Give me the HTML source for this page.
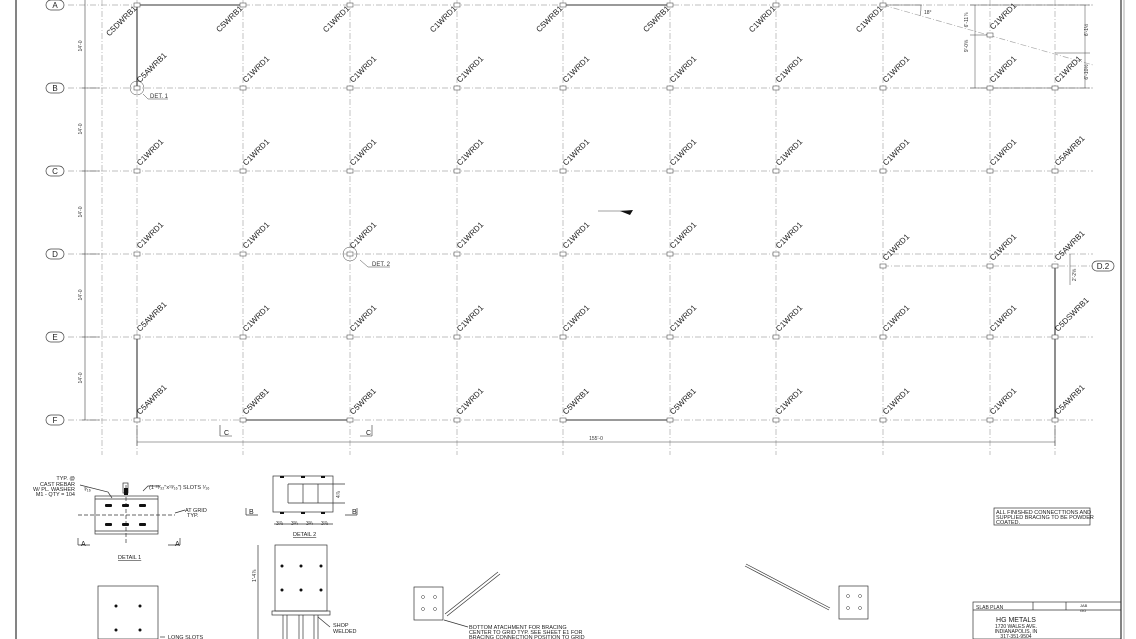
<!DOCTYPE html>
<html><head><meta charset="utf-8"><style>
html,body{margin:0;padding:0;background:#fff;}
svg{display:block;font-family:"Liberation Sans",sans-serif;}
</style></head><body>
<svg width="1136" height="639" viewBox="0 0 1136 639" xmlns="http://www.w3.org/2000/svg">
<rect width="1136" height="639" fill="#fff"/>
<line x1="16" y1="0" x2="16" y2="639" stroke="#333" stroke-width="1.2"/>
<line x1="1121" y1="0" x2="1121" y2="639" stroke="#333" stroke-width="1.2"/>
<line x1="1124" y1="0" x2="1124" y2="639" stroke="#777" stroke-width="0.6"/>
<g stroke="#aaa" stroke-width="0.7" stroke-dasharray="6 2 1 2" fill="none">
<line x1="68" y1="5" x2="1093" y2="5"/>
<line x1="68" y1="88" x2="1093" y2="88"/>
<line x1="68" y1="171" x2="1093" y2="171"/>
<line x1="68" y1="254" x2="1093" y2="254"/>
<line x1="68" y1="337" x2="1093" y2="337"/>
<line x1="68" y1="420" x2="1093" y2="420"/>
<line x1="883" y1="266" x2="1093" y2="266"/>
<line x1="102" y1="0" x2="102" y2="455"/>
<line x1="137" y1="0" x2="137" y2="455"/>
<line x1="243" y1="0" x2="243" y2="455"/>
<line x1="350" y1="0" x2="350" y2="455"/>
<line x1="457" y1="0" x2="457" y2="455"/>
<line x1="563" y1="0" x2="563" y2="455"/>
<line x1="670" y1="0" x2="670" y2="455"/>
<line x1="776" y1="0" x2="776" y2="455"/>
<line x1="883" y1="0" x2="883" y2="455"/>
<line x1="990" y1="0" x2="990" y2="455"/>
<line x1="1055" y1="0" x2="1055" y2="455"/>
<line x1="883" y1="5" x2="1093" y2="65"/>
</g>
<g font-size="8" fill="#222" text-anchor="middle" stroke="#444" stroke-width="0.7">
<rect x="46" y="0" width="18" height="10" rx="5" fill="none"/>
<rect x="46" y="83" width="18" height="10" rx="5" fill="none"/>
<rect x="46" y="166" width="18" height="10" rx="5" fill="none"/>
<rect x="46" y="249" width="18" height="10" rx="5" fill="none"/>
<rect x="46" y="332" width="18" height="10" rx="5" fill="none"/>
<rect x="46" y="415" width="18" height="10" rx="5" fill="none"/>
<rect x="1092" y="261" width="22" height="10" rx="5" fill="none"/>
</g>
<g font-size="8" fill="#222" text-anchor="middle">
<text x="55" y="8">A</text><text x="55" y="91">B</text><text x="55" y="174">C</text>
<text x="55" y="257">D</text><text x="55" y="340">E</text><text x="55" y="423">F</text>
<text x="1103" y="269">D.2</text>
</g>
<g stroke="#444" stroke-width="0.6">
<line x1="85" y1="0" x2="85" y2="420"/>
<line x1="82" y1="88" x2="100" y2="88"/><line x1="82" y1="171" x2="100" y2="171"/>
<line x1="82" y1="254" x2="100" y2="254"/><line x1="82" y1="337" x2="100" y2="337"/>
<line x1="82" y1="420" x2="100" y2="420"/>
<line x1="137" y1="442" x2="1055" y2="442"/>
<line x1="137" y1="425" x2="137" y2="446"/><line x1="1055" y1="425" x2="1055" y2="446"/>
</g>
<g font-size="5" fill="#333" text-anchor="middle">
<text transform="translate(82,46) rotate(-90)">14'-0</text>
<text transform="translate(82,129) rotate(-90)">14'-0</text>
<text transform="translate(82,212) rotate(-90)">14'-0</text>
<text transform="translate(82,295) rotate(-90)">14'-0</text>
<text transform="translate(82,378) rotate(-90)">14'-0</text>
<text x="596" y="440">155'-0</text>
</g>
<g stroke="#333" stroke-width="1.1">
<line x1="137" y1="5" x2="243" y2="5"/><line x1="563" y1="5" x2="670" y2="5"/>
<line x1="137" y1="5" x2="137" y2="88"/><line x1="137" y1="337" x2="137" y2="420"/>
<line x1="243" y1="420" x2="350" y2="420"/><line x1="563" y1="420" x2="670" y2="420"/>
<line x1="1055" y1="266" x2="1055" y2="420"/>
</g>
<g stroke="#444" stroke-width="0.5" fill="none">
<line x1="970" y1="5" x2="1090" y2="5"/><line x1="970" y1="88" x2="1090" y2="88"/>
<line x1="975" y1="5" x2="975" y2="88"/><line x1="1085" y1="5" x2="1085" y2="88"/>
<line x1="970" y1="35" x2="990" y2="35"/><line x1="1055" y1="53" x2="1090" y2="53"/>
<line x1="883" y1="5" x2="922" y2="5"/><path d="M921 5 A40 40 0 0 1 920 16"/>
<circle cx="350" cy="254" r="7"/><circle cx="137" cy="88" r="7"/>
<line x1="360" y1="260" x2="368" y2="267"/><line x1="368" y1="267" x2="390" y2="267"/>
<line x1="143" y1="94" x2="148" y2="99"/><line x1="148" y1="99" x2="168" y2="99"/>
<line x1="1070" y1="254" x2="1070" y2="285"/>
<line x1="598" y1="211" x2="628" y2="211"/>
</g>
<path d="M620 211 L633 210 L630 215 Z" fill="#111"/>
<g font-size="5" fill="#333">
<text transform="translate(968,46) rotate(-90)" text-anchor="middle">9'-0⅝</text>
<text transform="translate(968,20) rotate(-90)" text-anchor="middle">6'-11⅞</text>
<text transform="translate(1088,30) rotate(-90)" text-anchor="middle">6'-1½</text>
<text transform="translate(1088,72) rotate(-90)" text-anchor="middle">6'-10½</text>
<text transform="translate(1076,275) rotate(-90)" text-anchor="middle">2'-2⅝</text>
<text x="924" y="14">18°</text>
<text x="150" y="98" font-size="6">DET. 1</text>
<text x="372" y="266" font-size="6">DET. 2</text>
</g>
<g fill="#fff" stroke="#555" stroke-width="0.6">
<rect x="134" y="3" width="6" height="4"/><rect x="240" y="3" width="6" height="4"/><rect x="347" y="3" width="6" height="4"/><rect x="454" y="3" width="6" height="4"/><rect x="560" y="3" width="6" height="4"/><rect x="667" y="3" width="6" height="4"/><rect x="773" y="3" width="6" height="4"/><rect x="880" y="3" width="6" height="4"/>
<rect x="987" y="33" width="6" height="4"/>
<rect x="134" y="86" width="6" height="4"/><rect x="240" y="86" width="6" height="4"/><rect x="347" y="86" width="6" height="4"/><rect x="454" y="86" width="6" height="4"/><rect x="560" y="86" width="6" height="4"/><rect x="667" y="86" width="6" height="4"/><rect x="773" y="86" width="6" height="4"/><rect x="880" y="86" width="6" height="4"/><rect x="987" y="86" width="6" height="4"/><rect x="1052" y="86" width="6" height="4"/>
<rect x="134" y="169" width="6" height="4"/><rect x="240" y="169" width="6" height="4"/><rect x="347" y="169" width="6" height="4"/><rect x="454" y="169" width="6" height="4"/><rect x="560" y="169" width="6" height="4"/><rect x="667" y="169" width="6" height="4"/><rect x="773" y="169" width="6" height="4"/><rect x="880" y="169" width="6" height="4"/><rect x="987" y="169" width="6" height="4"/><rect x="1052" y="169" width="6" height="4"/>
<rect x="134" y="252" width="6" height="4"/><rect x="240" y="252" width="6" height="4"/><rect x="347" y="252" width="6" height="4"/><rect x="454" y="252" width="6" height="4"/><rect x="560" y="252" width="6" height="4"/><rect x="667" y="252" width="6" height="4"/><rect x="773" y="252" width="6" height="4"/><rect x="880" y="264" width="6" height="4"/><rect x="987" y="264" width="6" height="4"/><rect x="1052" y="264" width="6" height="4"/>
<rect x="134" y="335" width="6" height="4"/><rect x="240" y="335" width="6" height="4"/><rect x="347" y="335" width="6" height="4"/><rect x="454" y="335" width="6" height="4"/><rect x="560" y="335" width="6" height="4"/><rect x="667" y="335" width="6" height="4"/><rect x="773" y="335" width="6" height="4"/><rect x="880" y="335" width="6" height="4"/><rect x="987" y="335" width="6" height="4"/><rect x="1052" y="335" width="6" height="4"/>
<rect x="134" y="418" width="6" height="4"/><rect x="240" y="418" width="6" height="4"/><rect x="347" y="418" width="6" height="4"/><rect x="454" y="418" width="6" height="4"/><rect x="560" y="418" width="6" height="4"/><rect x="667" y="418" width="6" height="4"/><rect x="773" y="418" width="6" height="4"/><rect x="880" y="418" width="6" height="4"/><rect x="987" y="418" width="6" height="4"/><rect x="1052" y="418" width="6" height="4"/>
</g>
<g font-size="8" fill="#222" text-anchor="end">
<text transform="translate(137,9) rotate(-45)">C5DWRB1</text>
<text transform="translate(243,9) rotate(-45)">C5WRB1</text>
<text transform="translate(350,9) rotate(-45)">C1WRD1</text>
<text transform="translate(457,9) rotate(-45)">C1WRD1</text>
<text transform="translate(563,9) rotate(-45)">C5WRB1</text>
<text transform="translate(670,9) rotate(-45)">C5WRB1</text>
<text transform="translate(776,9) rotate(-45)">C1WRD1</text>
<text transform="translate(883,9) rotate(-45)">C1WRD1</text>
</g>
<g font-size="8" fill="#222">
<text transform="translate(140,83) rotate(-45)">C5AWRB1</text>
<text transform="translate(246,83) rotate(-45)">C1WRD1</text><text transform="translate(353,83) rotate(-45)">C1WRD1</text><text transform="translate(460,83) rotate(-45)">C1WRD1</text><text transform="translate(566,83) rotate(-45)">C1WRD1</text><text transform="translate(673,83) rotate(-45)">C1WRD1</text><text transform="translate(779,83) rotate(-45)">C1WRD1</text><text transform="translate(886,83) rotate(-45)">C1WRD1</text><text transform="translate(993,83) rotate(-45)">C1WRD1</text><text transform="translate(1058,83) rotate(-45)">C1WRD1</text>
<text transform="translate(993,30) rotate(-45)">C1WRD1</text>
<text transform="translate(140,166) rotate(-45)">C1WRD1</text><text transform="translate(246,166) rotate(-45)">C1WRD1</text><text transform="translate(353,166) rotate(-45)">C1WRD1</text><text transform="translate(460,166) rotate(-45)">C1WRD1</text><text transform="translate(566,166) rotate(-45)">C1WRD1</text><text transform="translate(673,166) rotate(-45)">C1WRD1</text><text transform="translate(779,166) rotate(-45)">C1WRD1</text><text transform="translate(886,166) rotate(-45)">C1WRD1</text><text transform="translate(993,166) rotate(-45)">C1WRD1</text><text transform="translate(1058,166) rotate(-45)">C5AWRB1</text>
<text transform="translate(140,249) rotate(-45)">C1WRD1</text><text transform="translate(246,249) rotate(-45)">C1WRD1</text><text transform="translate(353,249) rotate(-45)">C1WRD1</text><text transform="translate(460,249) rotate(-45)">C1WRD1</text><text transform="translate(566,249) rotate(-45)">C1WRD1</text><text transform="translate(673,249) rotate(-45)">C1WRD1</text><text transform="translate(779,249) rotate(-45)">C1WRD1</text><text transform="translate(886,261) rotate(-45)">C1WRD1</text><text transform="translate(993,261) rotate(-45)">C1WRD1</text><text transform="translate(1058,261) rotate(-45)">C5AWRB1</text>
<text transform="translate(140,332) rotate(-45)">C5AWRB1</text><text transform="translate(246,332) rotate(-45)">C1WRD1</text><text transform="translate(353,332) rotate(-45)">C1WRD1</text><text transform="translate(460,332) rotate(-45)">C1WRD1</text><text transform="translate(566,332) rotate(-45)">C1WRD1</text><text transform="translate(673,332) rotate(-45)">C1WRD1</text><text transform="translate(779,332) rotate(-45)">C1WRD1</text><text transform="translate(886,332) rotate(-45)">C1WRD1</text><text transform="translate(993,332) rotate(-45)">C1WRD1</text><text transform="translate(1058,332) rotate(-45)">C5DSWRB1</text>
<text transform="translate(140,415) rotate(-45)">C5AWRB1</text><text transform="translate(246,415) rotate(-45)">C5WRB1</text><text transform="translate(353,415) rotate(-45)">C5WRB1</text><text transform="translate(460,415) rotate(-45)">C1WRD1</text><text transform="translate(566,415) rotate(-45)">C5WRB1</text><text transform="translate(673,415) rotate(-45)">C5WRB1</text><text transform="translate(779,415) rotate(-45)">C1WRD1</text><text transform="translate(886,415) rotate(-45)">C1WRD1</text><text transform="translate(993,415) rotate(-45)">C1WRD1</text><text transform="translate(1058,415) rotate(-45)">C5AWRB1</text>
</g>
<g stroke="#333" stroke-width="0.6" fill="none">
<path d="M220 436 V425 M220 436 H232 M372 436 V425 M372 436 H360"/>
</g>
<g font-size="7" fill="#222"><text x="224" y="435">C</text><text x="366" y="435">C</text></g>
<g stroke="#333" stroke-width="0.7" fill="none">
<rect x="95" y="496" width="63" height="38"/>
<line x1="95" y1="499" x2="158" y2="499"/><line x1="95" y1="531" x2="158" y2="531"/>
<line x1="78" y1="515" x2="175" y2="515" stroke-dasharray="4 2"/>
<line x1="126" y1="485" x2="126" y2="545" stroke-dasharray="4 2"/>
<rect x="123" y="483" width="5" height="10"/>
<path d="M78 545 V538 M78 545 H90 M180 545 V538 M180 545 H168"/>
<path d="M175 513 L185 510 M143 491 L148 486 L160 486"/>
<path d="M80 485 L108 492 L112 498"/>
<rect x="273" y="476" width="60" height="36"/>
<line x1="288" y1="484" x2="345" y2="484"/><line x1="288" y1="503" x2="345" y2="503"/>
<line x1="288" y1="484" x2="288" y2="503"/><line x1="303" y1="484" x2="303" y2="503"/><line x1="318" y1="484" x2="318" y2="503"/>
<line x1="274" y1="524" x2="333" y2="524"/>
<path d="M246 515 V508 M246 515 H258 M357 515 V508 M357 515 H345"/>
<rect x="275" y="545" width="52" height="66"/>
<rect x="272" y="611" width="58" height="4"/>
<line x1="283" y1="615" x2="283" y2="639"/><line x1="287" y1="615" x2="287" y2="639"/>
<line x1="299" y1="615" x2="299" y2="639"/><line x1="303" y1="615" x2="303" y2="639"/>
<line x1="314" y1="615" x2="314" y2="639"/><line x1="318" y1="615" x2="318" y2="639"/>
<line x1="258" y1="545" x2="258" y2="639"/>
<line x1="318" y1="617" x2="330" y2="627"/>
<rect x="98" y="586" width="60" height="53"/>
<line x1="160" y1="637" x2="165" y2="637"/>
<rect x="414" y="587" width="29" height="33"/>
<rect x="839" y="586" width="29" height="33"/>
<line x1="445" y1="614" x2="498" y2="572"/><line x1="447" y1="616" x2="500" y2="574"/>
<line x1="746" y1="564" x2="830" y2="608"/><line x1="745" y1="566" x2="829" y2="610"/>
<line x1="444" y1="620" x2="468" y2="627"/>
<rect x="994" y="508" width="96" height="17"/>
<rect x="973" y="602" width="148" height="37"/>
<line x1="973" y1="610" x2="1121" y2="610"/><line x1="1033" y1="602" x2="1033" y2="610"/><line x1="1066" y1="602" x2="1066" y2="610"/>
</g>
<g fill="#111">
<rect x="105" y="504" width="7" height="3" rx="1"/><rect x="122" y="504" width="7" height="3" rx="1"/><rect x="139" y="504" width="7" height="3" rx="1"/>
<rect x="105" y="523" width="7" height="3" rx="1"/><rect x="122" y="523" width="7" height="3" rx="1"/><rect x="139" y="523" width="7" height="3" rx="1"/>
<rect x="124" y="488" width="4" height="7"/>
<rect x="280" y="476" width="4" height="2"/><rect x="301" y="476" width="4" height="2"/><rect x="321" y="476" width="4" height="2"/>
<rect x="280" y="512" width="4" height="2"/><rect x="301" y="512" width="4" height="2"/><rect x="321" y="512" width="4" height="2"/>
<circle cx="282" cy="566" r="1.5"/><circle cx="301" cy="566" r="1.5"/><circle cx="321" cy="566" r="1.5"/>
<circle cx="282" cy="590" r="1.5"/><circle cx="301" cy="590" r="1.5"/><circle cx="321" cy="590" r="1.5"/>
<circle cx="116" cy="606" r="1.5"/><circle cx="140" cy="606" r="1.5"/>
<circle cx="116" cy="630" r="1.5"/><circle cx="140" cy="630" r="1.5"/>
</g>
<g fill="none" stroke="#333" stroke-width="0.5">
<circle cx="423" cy="597" r="1.5"/><circle cx="435" cy="597" r="1.5"/><circle cx="423" cy="609" r="1.5"/><circle cx="435" cy="609" r="1.5"/>
<circle cx="848" cy="596" r="1.5"/><circle cx="860" cy="596" r="1.5"/><circle cx="848" cy="608" r="1.5"/><circle cx="860" cy="608" r="1.5"/>
</g>
<g font-size="5.5" fill="#222">
<text x="75" y="480" text-anchor="end">TYP. @</text>
<text x="75" y="486" text-anchor="end">CAST REBAR</text>
<text x="75" y="491" text-anchor="end">W/ PL. WASHER</text>
<text x="75" y="496" text-anchor="end">M1 - QTY = 104</text>
<text x="84" y="491">³⁄₁₆</text>
<text x="149" y="489">(1 ¹³⁄₃₂"x¹³⁄₁₆") SLOTS ¹⁄₁₆</text>
<text x="185" y="512">AT GRID</text><text x="187" y="517">TYP.</text>
<text x="81" y="546" font-size="7">A</text><text x="175" y="546" font-size="7">A</text>
<text x="118" y="559" text-decoration="underline">DETAIL 1</text>
<text x="249" y="514" font-size="7">B</text><text x="352" y="514" font-size="7">B</text>
<text x="293" y="536" text-decoration="underline">DETAIL 2</text>
<text x="276" y="525" font-size="5">3⅞</text><text x="291" y="525" font-size="5">3¾</text><text x="306" y="525" font-size="5">3¾</text><text x="321" y="525" font-size="5">3⅞</text>
<text transform="translate(340,498) rotate(-90)" font-size="5">4⅞</text>
<text transform="translate(256,582) rotate(-90)" font-size="5">1'-4⅞</text>
<text x="333" y="627">SHOP</text><text x="333" y="633">WELDED</text>
<text x="168" y="639">LONG SLOTS</text>
<text x="469" y="629">BOTTOM ATACHMENT FOR BRACING</text>
<text x="469" y="634">CENTER TO GRID TYP.  SEE SHEET E1 FOR</text>
<text x="469" y="639">BRACING CONNECTION POSITION TO GRID</text>
<text x="996" y="514">ALL FINISHED CONNECTTIONS AND</text>
<text x="996" y="519">SUPPLIED BRACING TO BE POWDER</text>
<text x="996" y="524">COATED.</text>
<text x="976" y="609" font-size="5">SLAB PLAN</text>
<text x="1080" y="607" font-size="4">JAB</text><text x="1080" y="612" font-size="4">GO</text>
<text x="1016" y="622" font-size="7" text-anchor="middle">HG METALS</text>
<text x="1016" y="628" font-size="5" text-anchor="middle">1720 WALES AVE.</text>
<text x="1016" y="633" font-size="5" text-anchor="middle">INDIANAPOLIS, IN</text>
<text x="1016" y="638" font-size="5" text-anchor="middle">317-351-9504</text>
</g>
</svg>
</body></html>
